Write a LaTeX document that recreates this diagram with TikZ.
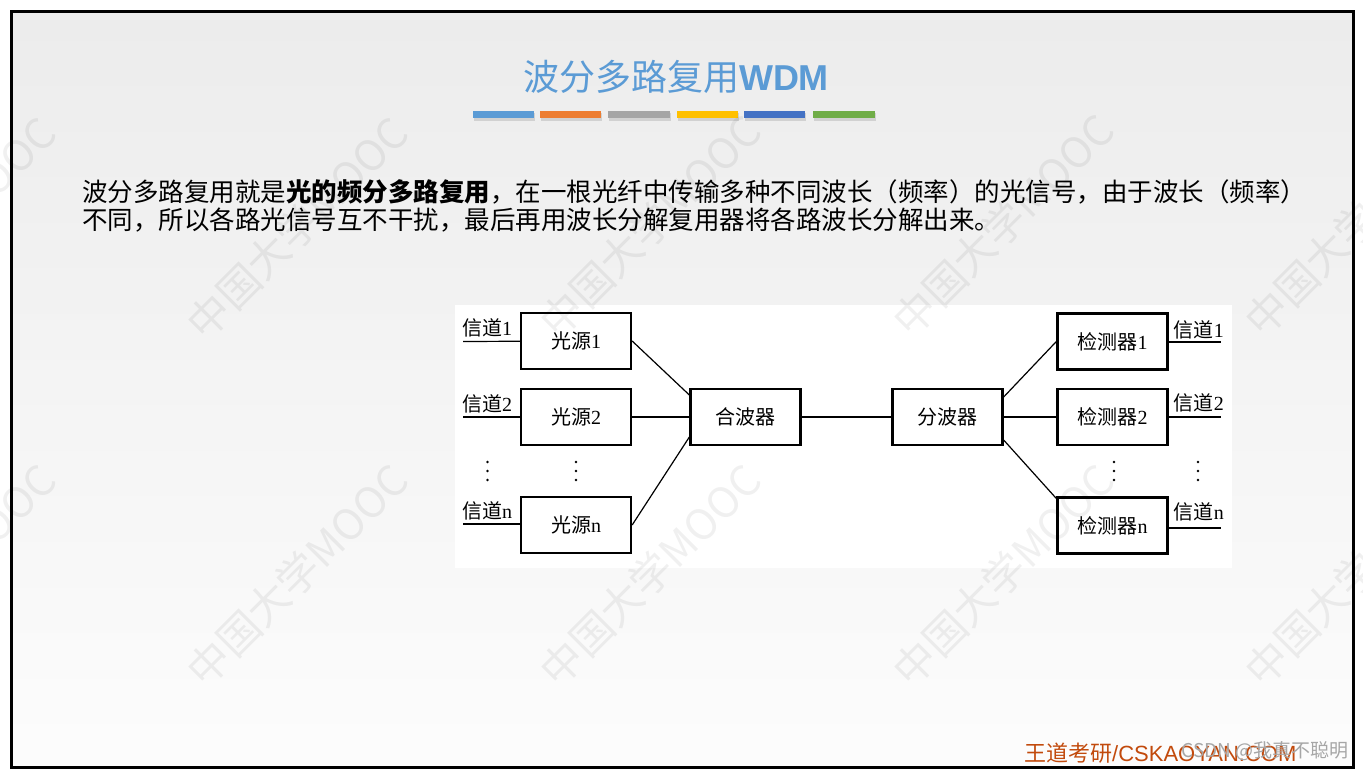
\documentclass[tikz,border=0pt]{standalone}
\usepackage{fontspec}
\setmainfont{Liberation Serif}
\newfontfamily\cjk{Noto Sans CJK SC}
\newfontfamily\arialfont{Liberation Sans}
\usepackage{tikz}
\usetikzlibrary{positioning}
\definecolor{titleblue}{HTML}{5B9BD5}
\definecolor{bar1}{HTML}{5B9BD5}
\definecolor{bar2}{HTML}{ED7D31}
\definecolor{bar3}{HTML}{A5A5A5}
\definecolor{bar4}{HTML}{FFC000}
\definecolor{bar5}{HTML}{4472C4}
\definecolor{bar6}{HTML}{70AD47}
\definecolor{brandred}{RGB}{194,74,12}

\begin{document}
\begin{tikzpicture}[x=1pt, y=-1pt,
        box/.style={draw, line width=2.3pt, minimum width=110pt, minimum height=56pt, inner sep=0pt, font=\fontsize{20}{20}\selectfont},
        chan/.style={inner sep=0pt, font=\fontsize{20}{20}\selectfont},
        wire/.style={line width=1.2pt},
        para/.style={inner sep=0pt, anchor=west, font=\cjk\fontsize{25.5}{28}\selectfont},
        wmtext/.style={rotate=45, text=black, text opacity=0.06, inner sep=0pt, font=\cjk\fontsize{42}{42}\selectfont}
    ]
    \useasboundingbox (0,0) rectangle (1363,772);

    % Slide background
    \shade[top color=gray!15, bottom color=white!99!black] (11.5,11.5) rectangle (1353.5,767);

    % Title and colour bars
    \node[font=\fontsize{36}{36}\selectfont, text=titleblue] (title) at (676,77) {{\cjk 波分多路复用}{\arialfont\bfseries WDM}};
    \foreach \xa/\xb/\c in {473/534/bar1, 540/601/bar2, 608/670/bar3, 677/738/bar4, 744/805/bar5, 813/875/bar6} {
        \fill[black!18] (\xa+1,113) rectangle (\xb+1,121);
        \fill[\c] (\xa,111) rectangle (\xb,118);
    }

    % Text
    \node[para] (line1) at (82,192) {波分多路复用就是{\bfseries 光的频分多路复用}，在一根光纤中传输多种不同波长（频率）的光信号，由于波长（频率）};
    \node[para] (line2) at (82,220) {不同，所以各路光信号互不干扰，最后再用波长分解复用器将各路波长分解出来。};

    % Figure area
    \fill[white] (455,305) rectangle (1232,568);

    % Watermarks
    \foreach \x/\y [count=\i] in {-55/228, 297/228, 650/226, 1003/225, 1355/225, -55/575, 297/575, 650/575, 1003/575, 1355/575}
        \node[wmtext] (wm\i) at (\x,\y) {中国大学MOOC};

    % Left side - light sources
    \node[box] (S1) at (576,341) {{\cjk 光源}1};
    \node[box] (S2) at (576,417) {{\cjk 光源}2};
    \node[box] (Sn) at (576,525) {{\cjk 光源}n};
    \node[box] (M) at (745.5,417) {\cjk 合波器};

    % Right side - detectors
    \node[box] (D) at (947.5,417) {\cjk 分波器};
    \node[box] (R1) at (1112.5,341.5) {{\cjk 检测器}1};
    \node[box] (R2) at (1112.5,417) {{\cjk 检测器}2};
    \node[box] (Rn) at (1112.5,525.5) {{\cjk 检测器}n};

    % Channels in
    \coordinate (in1) at (463,341.5);
    \coordinate (in2) at (463,417);
    \coordinate (inn) at (463,524);
    \node[chan, anchor=base west] (CL1) at (462,335) {{\cjk 信道}1};
    \node[chan, anchor=base west] (CL2) at (462,411) {{\cjk 信道}2};
    \node[chan, anchor=base west] (CLn) at (462,518) {{\cjk 信道}n};
    \draw[wire] (in1) -- (S1);
    \draw[wire] (in2) -- (S2);
    \draw[wire] (inn) -- (Sn.west |- inn);

    % Channels out
    \coordinate (out1) at (1221,342);
    \coordinate (out2) at (1221,417);
    \coordinate (outn) at (1221,528);
    \node[chan, anchor=base east] (CR1) at (1224,337) {{\cjk 信道}1};
    \node[chan, anchor=base east] (CR2) at (1224,410) {{\cjk 信道}2};
    \node[chan, anchor=base east] (CRn) at (1224,519) {{\cjk 信道}n};
    \draw[wire] (R1.east |- out1) -- (out1);
    \draw[wire] (R2) -- (out2);
    \draw[wire] (Rn.east |- outn) -- (outn);

    % Combiner and splitter links
    \draw[wire] (S1.east) -- ([yshift=22pt]M.west);
    \draw[wire] (S2) -- (M);
    \draw[wire] (Sn.east) -- ([yshift=-20pt]M.west);
    \draw[wire] (M) -- (D);
    \draw[wire] ([yshift=20pt]D.east) -- (R1.west);
    \draw[wire] (D) -- (R2);
    \draw[wire] ([yshift=-23pt]D.east) -- ([yshift=27pt]Rn.west);

    % Dots
    \foreach \x in {487.5,576,1114,1198}
        \foreach \y in {462,471,480}
            \fill (\x,\y) circle (1.4pt);

    % Footer
    \node[anchor=west, inner sep=0pt, text=brandred, font=\fontsize{22}{22}\selectfont] (brand) at (1024,753) {{\cjk 王道考研}{\arialfont /CSKAOYAN.COM}};
    \node[anchor=east, inner sep=0pt, text=gray!70, font=\cjk\fontsize{19}{19}\selectfont] (csdn) at (1349,751) {CSDN @我真不聪明};

    % Frame
    \draw[line width=3pt] (11.5,11.5) rectangle (1353.5,767);
\end{tikzpicture}
\end{document}
